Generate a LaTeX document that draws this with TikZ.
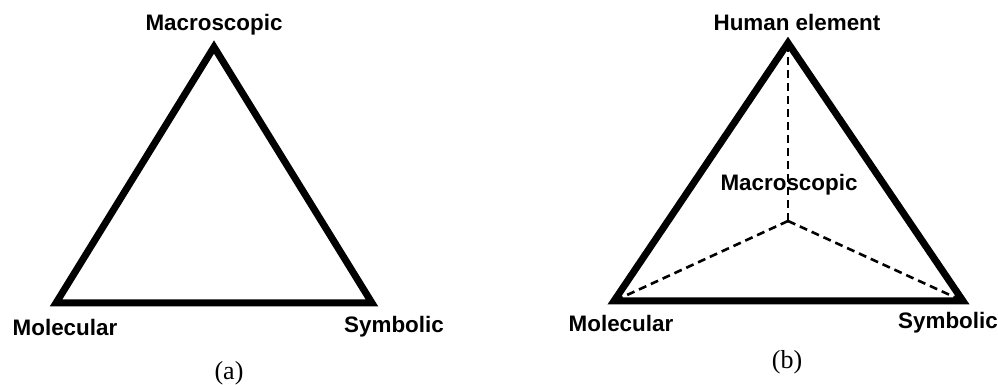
\documentclass[tikz,border=0pt]{standalone}
\usepackage{fontspec}
\setmainfont{Liberation Serif}
\newfontfamily\labelfont{Liberation Sans}[BoldFont={Liberation Sans Bold}]
\usepackage{tikz}
\usetikzlibrary{arrows.meta}

\begin{document}
\begin{tikzpicture}[x=0.5pt, y=-0.5pt,
      tri/.style={line width=3.5pt, line join=miter},
      spoke/.style={line width=1.3pt, dash pattern=on 4pt off 2.5pt},
      lbl/.style={font=\labelfont\bfseries\fontsize{11.2}{13}\selectfont, inner sep=0pt},
      subcap/.style={font=\fontsize{13}{15}\selectfont, inner sep=0pt}]
    \useasboundingbox (0,0) rectangle (998,385);
    % (a)
    \coordinate (aTop)   at (214,47);
    \coordinate (aLeft)  at (56,303);
    \coordinate (aRight) at (372,303);
    \draw[tri] (aTop)--(aRight)--(aLeft)--cycle;
    \node[lbl] (aMacro) at (214,25)  {Macroscopic};
    \node[lbl] (aMol)   at (65,327)  {Molecular};
    \node[lbl] (aSym)   at (394,327) {Symbolic};
    \node[subcap] (capA) at (229,373) {(a)};
    % (b)
    \coordinate (bTop)   at (788,43);
    \coordinate (bLeft)  at (614,301);
    \coordinate (bRight) at (963,301);
    \coordinate (bMid)   at (788,221);
    \draw[tri] (bTop)--(bRight)--(bLeft)--cycle;
    \draw[spoke] (bMid)--(bTop);
    \draw[spoke] (bMid)--(bLeft);
    \draw[spoke] (bMid)--(bRight);
    \node[lbl] (bHuman) at (797,22)  {Human element};
    \node[lbl] (bMacro) at (789,185) {Macroscopic};
    \node[lbl] (bMol)   at (621,323) {Molecular};
    \node[lbl] (bSym)   at (948,323) {Symbolic};
    \node[subcap] (capB) at (787,362) {(b)};
  \end{tikzpicture}
\end{document}
